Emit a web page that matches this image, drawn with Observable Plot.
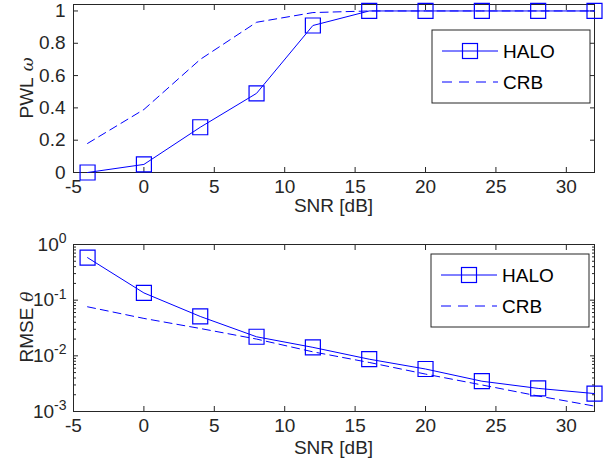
<!DOCTYPE html>
<html>
<head>
<meta charset="utf-8">
<script src="https://cdn.jsdelivr.net/npm/d3@7"></script>
<script src="https://cdn.jsdelivr.net/npm/@observablehq/plot@0.6"></script>
<style>
  html, body { margin: 0; padding: 0; background: white; }
  #chart { width: 614px; height: 461px; position: relative; }
  #chart svg { display: block; overflow: visible; }
</style>
</head>
<body>
<div id="chart"></div>
<script>
// ---- data ----
const snr = [-4, 0, 4, 8, 12, 16, 20, 24, 28, 32];
const pwlHalo = [0, 0.05, 0.28, 0.49, 0.91, 1, 1, 1, 1, 1];
const pwlCrb = [0.18, 0.39, 0.70, 0.93, 0.99, 1, 1, 1, 1, 1];
const rmseHalo = [0.58, 0.135, 0.051, 0.022, 0.0142, 0.0087, 0.0058, 0.0035, 0.0026, 0.0021];
const rmseCrb = [0.076, 0.047, 0.031, 0.020, 0.0118, 0.0076, 0.0047, 0.0030, 0.0019, 0.00125];
const xTicks = [-5, 0, 5, 10, 15, 20, 25, 30];
const pwlTicks = [0, 0.2, 0.4, 0.6, 0.8, 1];
const rmseTicks = [1e-3, 1e-2, 1e-1, 1];
const seriesNames = ["HALO", "CRB"];

const pwl = snr.map((s, i) => ({snr: s, halo: pwlHalo[i], crb: pwlCrb[i]}));
const rmse = snr.map((s, i) => ({snr: s, halo: rmseHalo[i], crb: rmseCrb[i]}));
const rmseMinor = [];
for (const d of [1e-3, 1e-2, 1e-1]) for (let k = 2; k <= 9; k++) rmseMinor.push(d * k);

const BLUE = "#0000ff";
const INK = "#262626";
const FONT = "'Liberation Sans', Arial, Helvetica, sans-serif";
const FS = 19;
const SQ_R = 15 / Math.sqrt(Math.PI);

function commonStyle() {
  return {fontFamily: FONT, fontSize: FS + "px", color: INK, background: "white", overflow: "visible"};
}

function xAxes() {
  return [
    Plot.axisX({ticks: xTicks, tickSize: -5, tickPadding: 12, tickFormat: d => String(d), label: null, stroke: INK}),
    Plot.axisX({anchor: "top", ticks: xTicks, tickSize: -5, tickFormat: () => "", label: null, stroke: INK})
  ];
}

const topChart = Plot.plot({
  width: 614, height: 230,
  marginLeft: 73, marginRight: 20, marginTop: 4, marginBottom: 58,
  style: commonStyle(),
  x: {domain: [-5, 32]},
  y: {domain: [0, 1.04]},
  marks: [
    ...xAxes(),
    Plot.axisY({ticks: pwlTicks, tickSize: -5, tickPadding: 13, tickFormat: d => String(d), label: null, stroke: INK}),
    Plot.axisY({anchor: "right", ticks: pwlTicks, tickSize: -5, tickFormat: () => "", label: null, stroke: INK}),
    Plot.frame({stroke: INK, strokeWidth: 1}),
    Plot.line(pwl, {x: "snr", y: "crb", stroke: BLUE, strokeWidth: 1, strokeDasharray: "8,5"}),
    Plot.line(pwl, {x: "snr", y: "halo", stroke: BLUE, strokeWidth: 1}),
    Plot.dot(pwl, {x: "snr", y: "halo", symbol: "square", r: SQ_R, stroke: BLUE, strokeWidth: 1.2, fill: "none"})
  ]
});

const bottomChart = Plot.plot({
  width: 614, height: 231,
  marginLeft: 73, marginRight: 20, marginTop: 14, marginBottom: 50,
  style: commonStyle(),
  x: {domain: [-5, 32]},
  y: {type: "log", domain: [1e-3, 1]},
  marks: [
    ...xAxes(),
    Plot.axisY({ticks: rmseTicks, tickSize: -5, tickPadding: 12, tickFormat: d => "10^" + Math.round(Math.log10(d)), label: null, stroke: INK}),
    Plot.axisY({ticks: rmseMinor, tickSize: -3, tickFormat: () => "", label: null, stroke: INK}),
    Plot.axisY({anchor: "right", ticks: rmseTicks, tickSize: -5, tickFormat: () => "", label: null, stroke: INK}),
    Plot.axisY({anchor: "right", ticks: rmseMinor, tickSize: -3, tickFormat: () => "", label: null, stroke: INK}),
    Plot.frame({stroke: INK, strokeWidth: 1}),
    Plot.line(rmse, {x: "snr", y: "crb", stroke: BLUE, strokeWidth: 1, strokeDasharray: "8,5"}),
    Plot.line(rmse, {x: "snr", y: "halo", stroke: BLUE, strokeWidth: 1}),
    Plot.dot(rmse, {x: "snr", y: "halo", symbol: "square", r: SQ_R, stroke: BLUE, strokeWidth: 1.2, fill: "none"})
  ]
});

const chart = document.getElementById("chart");
chart.appendChild(topChart);
chart.appendChild(bottomChart);

// superscript log tick labels
d3.select(bottomChart).selectAll('g[aria-label="y-axis tick label"] text').each(function() {
  const t = d3.select(this);
  const s = t.text();
  if (!s.startsWith("10^")) return;
  const e = s.slice(3);
  t.text("");
  t.append("tspan").text("10");
  t.append("tspan").attr("dy", "-0.55em").attr("font-size", "14px").text(e);
});

function decorate(svg, o) {
  const s = d3.select(svg);
  const mL = 73, mR = 20, W = 614;
  const cx = (mL + W - mR) / 2;
  s.append("text").attr("x", cx).attr("y", o.xLabelY).attr("text-anchor", "middle")
    .attr("fill", INK).attr("font-family", FONT).attr("font-size", FS).text("SNR [dB]");
  const yl = s.append("text").attr("transform", `translate(${o.yLabelX},${o.yLabelY}) rotate(-90)`)
    .attr("text-anchor", "middle").attr("fill", INK).attr("font-family", FONT).attr("font-size", FS);
  yl.append("tspan").text(o.yLabel);
  yl.append("tspan").attr("dx", 6).attr("font-style", "italic").attr("font-family", "'DejaVu Serif', 'Liberation Serif', serif").attr("font-size", FS - 2).text(o.yGreek);
  const lg = s.append("g").attr("transform", `translate(${o.legX},${o.legY})`);
  lg.append("rect").attr("x", 0).attr("y", 0).attr("width", 158).attr("height", 73)
    .attr("fill", "white").attr("stroke", INK).attr("stroke-width", 1);
  const rows = [21, 52];
  seriesNames.forEach((name, i) => {
    const y = rows[i];
    lg.append("line").attr("x1", 10).attr("x2", 66).attr("y1", y).attr("y2", y)
      .attr("stroke", BLUE).attr("stroke-width", 1)
      .attr("stroke-dasharray", i === 1 ? "10,7" : null);
    if (i === 0) {
      lg.append("rect").attr("x", 38 - 7.5).attr("y", y - 7.5).attr("width", 15).attr("height", 15)
        .attr("fill", "none").attr("stroke", BLUE).attr("stroke-width", 1.2);
    }
    lg.append("text").attr("x", 71).attr("y", y).attr("dy", "0.35em").attr("fill", "#000")
      .attr("text-anchor", "start")
      .attr("font-family", FONT).attr("font-size", FS).text(name);
  });
}

decorate(topChart, {xLabelY: 212, yLabelX: 33, yLabelY: 88, yLabel: "PWL", yGreek: "ω", legX: 432, legY: 30});
decorate(bottomChart, {xLabelY: 224, yLabelX: 33, yLabelY: 97, yLabel: "RMSE", yGreek: "θ", legX: 431, legY: 24});
</script>
</body>
</html>
